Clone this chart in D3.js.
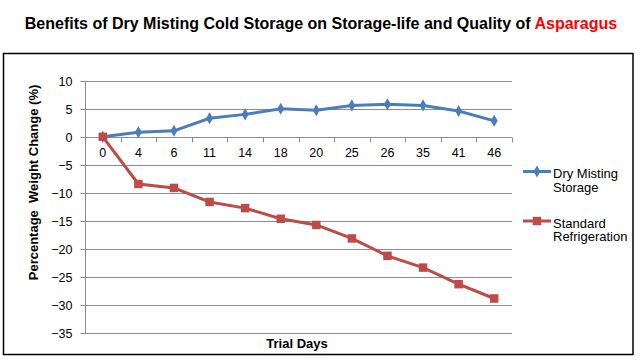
<!DOCTYPE html>
<html><head><meta charset="utf-8">
<script src="https://cdn.jsdelivr.net/npm/d3@7"></script>
<style>body{margin:0;background:#fff}svg{display:block;font-family:Arial,"Liberation Sans",sans-serif}</style>
</head><body>
<svg id="c" width="640" height="364"></svg>
<script>
const categories = ["0","4","6","11","14","18","20","25","26","35","41","46"];
const dryMisting = [0,0.8,1.07,3.3,4.0,5.0,4.75,5.6,5.8,5.6,4.6,2.85];
const standardRefrigeration = [0,-8.4,-9.1,-11.6,-12.7,-14.6,-15.7,-18.1,-21.2,-23.3,-26.25,-28.8];
const yTicks = [10,5,0,-5,-10,-15,-20,-25,-30,-35];
const seriesNames = ["Dry Misting|Storage","Standard|Refrigeration"];
const seriesColors = ["#4a7ebb","#be4b48"];

const svg = d3.select("#c");
svg.append("rect").attr("x",3.5).attr("y",53.5).attr("width",629.5).attr("height",301)
  .attr("fill","#fff").attr("stroke","#000").attr("stroke-width",1.5);

const x = d3.scaleBand().domain(categories).range([85,512]).padding(0);
const y = d3.scaleLinear().domain([-35,10]).range([333.3,80.7]);
const cx = c => x(c) + x.bandwidth()/2;

// title
const t = svg.append("text").attr("x",321).attr("y",29).attr("text-anchor","middle")
  .attr("font-size",16).attr("font-weight","bold");
t.append("tspan").attr("fill","#000").text("Benefits of Dry Misting Cold Storage on Storage-life and Quality of ");
t.append("tspan").attr("fill","#ff0000").text("Asparagus");

// gridlines
svg.append("g").selectAll("line").data(yTicks).join("line")
  .attr("x1",85).attr("x2",512).attr("y1",d=>Math.round(y(d))+0.5).attr("y2",d=>Math.round(y(d))+0.5)
  .attr("stroke","#8c8c8c").attr("stroke-width",1);

// y axis
const yAxis = d3.axisLeft(y).tickValues(yTicks).tickSize(5).tickPadding(8).tickFormat(d3.format("d"));
const ga = svg.append("g").attr("transform","translate(85.5,0)").call(yAxis);
ga.select(".domain").attr("stroke","#8c8c8c").attr("d",`M0,${y(10)}V${y(-35)}`);
ga.selectAll(".tick line").attr("stroke","#8c8c8c");
ga.selectAll(".tick text").attr("font-size",12.5).attr("fill","#000").attr("font-family","Arial,'Liberation Sans',sans-serif");
ga.selectAll(".tick").attr("transform",d=>`translate(0,${Math.round(y(d))+0.5})`);

// x axis at zero
const y0 = Math.round(y(0))+0.5;
const bounds = categories.map(c=>x(c)).concat([x.range()[1]]);
svg.append("g").selectAll("line").data(bounds.slice(1)).join("line")
  .attr("x1",d=>Math.round(d)+0.5).attr("x2",d=>Math.round(d)+0.5).attr("y1",y0).attr("y2",y0+5)
  .attr("stroke","#8c8c8c");
svg.append("g").selectAll("text").data(categories).join("text")
  .attr("x",d=>cx(d)).attr("y",y0+19).attr("text-anchor","middle").attr("font-size",12.5).text(d=>d);

// axis titles
svg.append("text").attr("transform","translate(38,182.5) rotate(-90)").attr("text-anchor","middle")
  .attr("font-size",13).attr("font-weight","bold").style("white-space","pre").text("Percentage  Weight Change (%)");
svg.append("text").attr("x",297).attr("y",348).attr("text-anchor","middle")
  .attr("font-size",13).attr("font-weight","bold").text("Trial Days");

// series
const series = [dryMisting, standardRefrigeration];
const line = d3.line().x((d,i)=>cx(categories[i])).y(d=>y(d));
const diamond = d3.symbol().type(d3.symbolDiamond).size(42);
const square = d3.symbol().type(d3.symbolSquare).size(72);

series.forEach((vals,si)=>{
  const g = svg.append("g");
  g.append("path").attr("d",line(vals)).attr("fill","none").attr("stroke",seriesColors[si]).attr("stroke-width",3);
  g.selectAll("path.m").data(vals).join("path").attr("class","m")
    .attr("transform",(d,i)=>`translate(${cx(categories[i])},${y(d)})`)
    .attr("d",si===0?diamond():square()).attr("fill",seriesColors[si]);
});

// legend
const legY = [171.5, 221];
seriesNames.forEach((n,i)=>{
  const g = svg.append("g");
  g.append("line").attr("x1",523).attr("x2",551).attr("y1",legY[i]).attr("y2",legY[i])
    .attr("stroke",seriesColors[i]).attr("stroke-width",3);
  g.append("path").attr("transform",`translate(537,${legY[i]})`).attr("d",i===0?diamond():square()).attr("fill",seriesColors[i]);
  const parts = n.split("|");
  parts.forEach((p,j)=>{
    g.append("text").attr("x",553).attr("y",legY[i]+6.5+j*13.5).attr("font-size",13).text(p);
  });
});
</script>
</body></html>
